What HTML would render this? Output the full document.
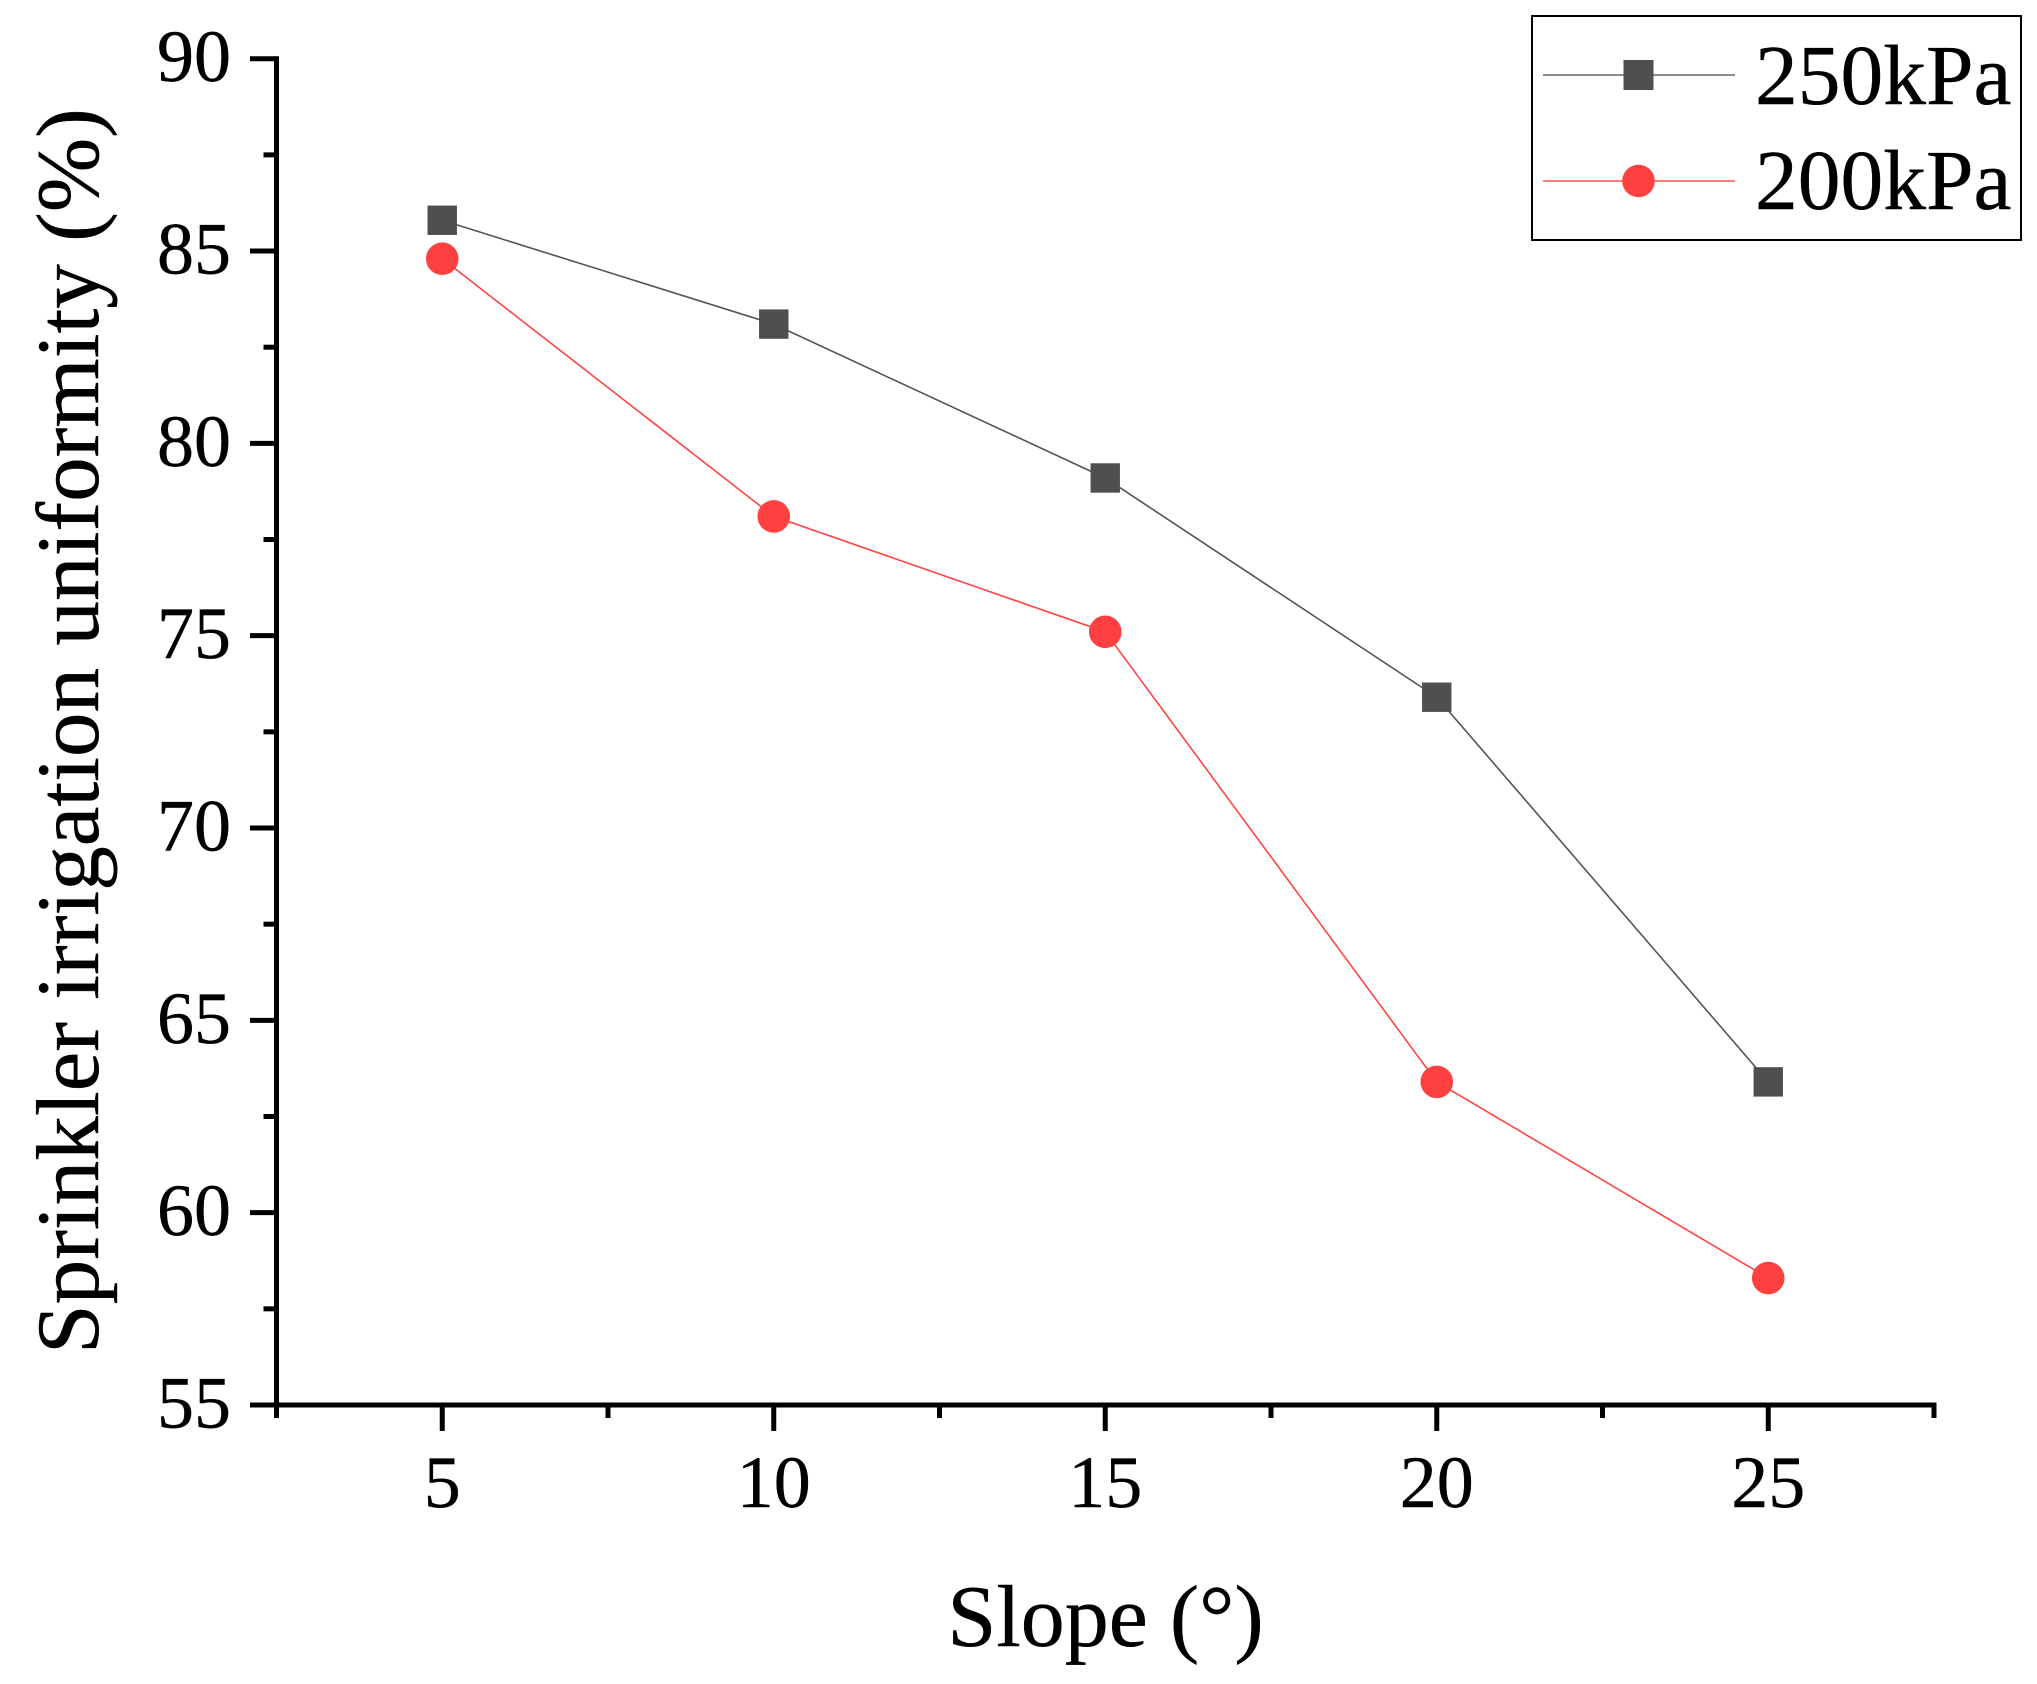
<!DOCTYPE html>
<html lang="en">
<head>
<meta charset="utf-8">
<title>Sprinkler irrigation uniformity vs slope</title>
<style>
  html, body { margin: 0; padding: 0; background: #fff; }
  svg { display: block; }
  text { font-family: "Liberation Serif", "Times New Roman", serif; fill: #000; stroke: #000; stroke-width: 0.4; text-rendering: geometricPrecision; }
</style>
</head>
<body>
<svg id="chart" xmlns="http://www.w3.org/2000/svg" width="2037" height="1684" viewBox="0 0 2037 1684">
  <rect x="0" y="0" width="2037" height="1684" fill="#fff"/>
  <g id="axes"></g>
  <g id="series"></g>
  <text x="1105.5" y="1646" font-size="88" text-anchor="middle">Slope (°)</text>
  <text transform="translate(98 1354) rotate(-90)" font-size="89.2" text-anchor="start">Sprinkler irrigation uniformity (%)</text>
  <g>
    <rect x="1532" y="16" width="489" height="224" fill="#fff" stroke="#000" stroke-width="2"/>
    <g>
      <line x1="1543" y1="75" x2="1735" y2="75" stroke="#666" stroke-width="1.6"/>
      <rect x="1623.5" y="60" width="30" height="30" fill="#4f4f4f"/>
      <text x="1755" y="104" font-size="85.5">250kPa</text>
    </g>
    <g>
      <line x1="1543" y1="181" x2="1735" y2="181" stroke="#ff5555" stroke-width="1.6"/>
      <circle cx="1638.5" cy="181" r="16.3" fill="#ff4040"/>
      <text x="1755" y="209" font-size="85.5">200kPa</text>
    </g>
  </g>
</svg>
<script>
const slopes = [5, 10, 15, 20, 25];
const uniformity250 = [85.8, 83.1, 79.1, 73.4, 63.4];
const uniformity200 = [84.8, 78.1, 75.1, 63.4, 58.3];
const xMajorTicks = [5, 10, 15, 20, 25];
const xMinorTicks = [2.5, 7.5, 12.5, 17.5, 22.5, 27.5];
const yMajorTicks = [55, 60, 65, 70, 75, 80, 85, 90];
const yMinorTicks = [57.5, 62.5, 67.5, 72.5, 77.5, 82.5, 87.5];

const NS = 'http://www.w3.org/2000/svg';
const xDomain = [2.5, 27.5];
const yDomain = [55, 90];
const plotLeft = 276.5;
const plotRight = 1934;
const plotBottom = 1405;
const plotTop = 58.7;

function xScale(v) {
  return plotLeft + (v - xDomain[0]) / (xDomain[1] - xDomain[0]) * (plotRight - plotLeft);
}
function yScale(v) {
  return plotBottom - (v - yDomain[0]) / (yDomain[1] - yDomain[0]) * (plotBottom - plotTop);
}
function make(tag, attrs, parent) {
  const el = document.createElementNS(NS, tag);
  Object.keys(attrs).forEach(function (k) { el.setAttribute(k, attrs[k]); });
  parent.appendChild(el);
  return el;
}

const axes = document.getElementById('axes');
const seriesGroup = document.getElementById('series');
const axisW = 5;
const tickW = 5;

xMajorTicks.forEach(function (v) {
  const t = make('line', { x1: xScale(v), x2: xScale(v), y1: plotBottom, y2: 1431, stroke: '#000', 'stroke-width': tickW }, axes);
  
  
  const lab = make('text', { x: xScale(v), y: 1507, 'font-size': 74, 'text-anchor': 'middle' }, axes);
  lab.textContent = String(v);
  
  
});
xMinorTicks.forEach(function (v) {
  const t = make('line', { x1: xScale(v), x2: xScale(v), y1: plotBottom, y2: 1418, stroke: '#000', 'stroke-width': tickW }, axes);
  
  
});
yMajorTicks.forEach(function (v) {
  const t = make('line', { x1: 250, x2: plotLeft, y1: yScale(v), y2: yScale(v), stroke: '#000', 'stroke-width': tickW }, axes);
  
  
  const lab = make('text', { x: 231, y: yScale(v) + 22.5, 'font-size': 74, 'text-anchor': 'end' }, axes);
  lab.textContent = String(v);
  
  
});
yMinorTicks.forEach(function (v) {
  const t = make('line', { x1: 263.5, x2: plotLeft, y1: yScale(v), y2: yScale(v), stroke: '#000', 'stroke-width': tickW }, axes);
  
  
});
const yAxisLine = make('line', { x1: plotLeft, x2: plotLeft, y1: plotTop - axisW / 2, y2: plotBottom, stroke: '#000', 'stroke-width': axisW }, axes);


const xAxisLine = make('line', { x1: plotLeft, x2: plotRight + axisW / 2, y1: plotBottom, y2: plotBottom, stroke: '#000', 'stroke-width': axisW }, axes);



function pointsFor(values) {
  return values.map(function (v, i) { return xScale(slopes[i]) + ',' + yScale(v); }).join(' ');
}

const line250 = make('polyline', { points: pointsFor(uniformity250), fill: 'none', stroke: '#555', 'stroke-width': 1.6 }, seriesGroup);


const line200 = make('polyline', { points: pointsFor(uniformity200), fill: 'none', stroke: '#ff4444', 'stroke-width': 1.6 }, seriesGroup);



uniformity250.forEach(function (v, i) {
  const m = make('rect', { x: xScale(slopes[i]) - 14.7, y: yScale(v) - 14.7, width: 29.4, height: 29.4, fill: '#4f4f4f' }, seriesGroup);
  
  
});
uniformity200.forEach(function (v, i) {
  const m = make('circle', { cx: xScale(slopes[i]), cy: yScale(v), r: 16.3, fill: '#ff4040' }, seriesGroup);
  
  
});
</script>
</body>
</html>
